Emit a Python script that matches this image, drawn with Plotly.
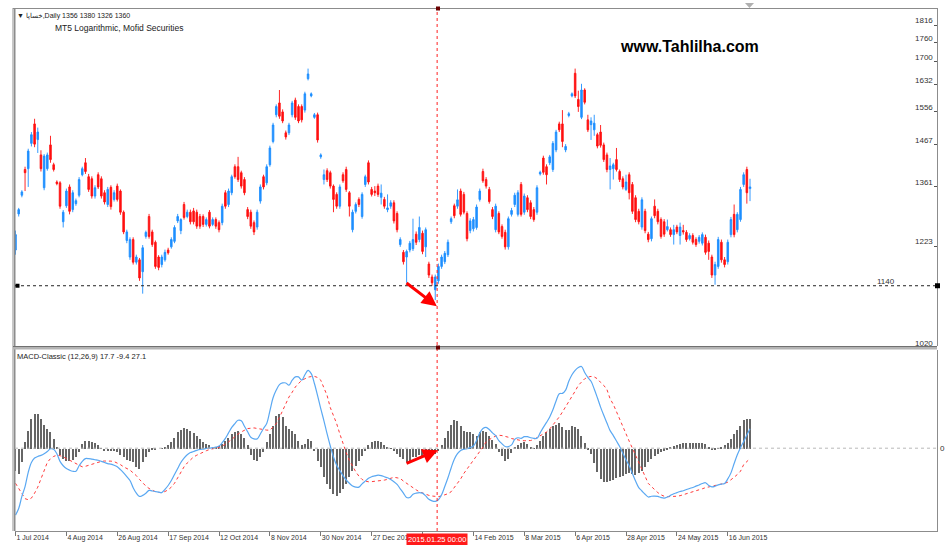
import math

import plotly.graph_objects as go

W, H = 951, 545

# daily bars (price scale is logarithmic)
opens = [
    1215, 1296, 1340, 1403, 1405, 1470, 1522, 1480, 1440, 1358,
    1405, 1466, 1415, 1372, 1370, 1278, 1315, 1360, 1306, 1320,
    1340, 1390, 1420, 1385, 1380, 1338, 1390, 1380, 1346, 1318,
    1359, 1330, 1362, 1350, 1300, 1236, 1200, 1238, 1189, 1194,
    1169, 1245, 1290, 1255, 1232, 1200, 1184, 1194, 1215, 1222,
    1234, 1280, 1258, 1318, 1290, 1300, 1303, 1300, 1290, 1290,
    1272, 1300, 1272, 1283, 1276, 1276, 1346, 1318, 1346, 1410,
    1410, 1395, 1378, 1306, 1300, 1276, 1266, 1326, 1385, 1370,
    1415, 1475, 1547, 1580, 1555, 1498, 1498, 1547, 1588, 1570,
    1570, 1560, 1650, 1600, 1540, 1547, 1435, 1378, 1400, 1395,
    1362, 1342, 1314, 1390, 1403, 1346, 1260, 1302, 1330, 1290,
    1366, 1420, 1354, 1350, 1362, 1335, 1330, 1306, 1314, 1322,
    1297, 1227, 1210, 1200, 1215, 1218, 1250, 1238, 1252, 1222,
    1185, 1158, 1132, 1150, 1180, 1190, 1205, 1278, 1315, 1314,
    1350, 1342, 1297, 1258, 1262, 1265, 1330, 1398, 1378, 1354,
    1306, 1260, 1297, 1267, 1254, 1222, 1295, 1318, 1295, 1366,
    1300, 1334, 1322, 1306, 1300, 1392, 1432, 1410, 1420, 1403,
    1453, 1522, 1522, 1453, 1545, 1600, 1666, 1590, 1540, 1617,
    1533, 1520, 1506, 1493, 1500, 1466, 1440, 1403, 1405, 1428,
    1398, 1380, 1354, 1390, 1366, 1334, 1302, 1266, 1302, 1250,
    1240, 1314, 1302, 1283, 1278, 1260, 1260, 1249, 1266, 1247,
    1258, 1254, 1240, 1247, 1238, 1234, 1230, 1243, 1230, 1200,
    1162, 1180, 1232, 1194, 1190, 1249, 1295, 1260, 1283, 1366,
    1403, 1356,
]
highs = [
    1258, 1310, 1352, 1410, 1456, 1500, 1536, 1512, 1452, 1442,
    1446, 1490, 1420, 1376, 1374, 1305, 1356, 1366, 1352, 1332,
    1384, 1410, 1432, 1392, 1386, 1364, 1396, 1386, 1352, 1360,
    1364, 1352, 1368, 1354, 1304, 1260, 1243, 1243, 1205, 1198,
    1226, 1258, 1296, 1260, 1236, 1204, 1205, 1216, 1220, 1243,
    1270, 1296, 1286, 1324, 1306, 1306, 1310, 1306, 1296, 1295,
    1288, 1305, 1288, 1288, 1281, 1320, 1352, 1356, 1390, 1416,
    1435, 1400, 1384, 1312, 1306, 1281, 1306, 1366, 1390, 1416,
    1464, 1525, 1576, 1617, 1562, 1504, 1525, 1586, 1595, 1576,
    1576, 1612, 1680, 1610, 1552, 1553, 1444, 1403, 1406, 1400,
    1366, 1347, 1366, 1396, 1410, 1350, 1306, 1323, 1335, 1347,
    1390, 1426, 1360, 1362, 1368, 1366, 1336, 1342, 1328, 1328,
    1302, 1243, 1215, 1216, 1235, 1285, 1256, 1290, 1258, 1265,
    1190, 1163, 1163, 1186, 1205, 1213, 1238, 1290, 1320, 1354,
    1356, 1348, 1302, 1286, 1289, 1318, 1356, 1405, 1384, 1360,
    1312, 1320, 1302, 1272, 1260, 1290, 1310, 1346, 1352, 1372,
    1344, 1340, 1328, 1312, 1364, 1400, 1438, 1416, 1440, 1476,
    1506, 1528, 1560, 1468, 1555, 1610, 1680, 1615, 1635, 1622,
    1547, 1540, 1547, 1498, 1519, 1472, 1446, 1432, 1420, 1458,
    1403, 1386, 1390, 1396, 1372, 1340, 1308, 1335, 1308, 1255,
    1290, 1330, 1308, 1288, 1284, 1283, 1265, 1271, 1271, 1276,
    1271, 1259, 1252, 1252, 1243, 1248, 1254, 1249, 1236, 1205,
    1190, 1244, 1238, 1200, 1238, 1289, 1318, 1300, 1360, 1396,
    1410, 1380,
]
lows = [
    1205, 1290, 1335, 1350, 1360, 1462, 1460, 1445, 1398, 1352,
    1400, 1420, 1398, 1364, 1308, 1265, 1310, 1295, 1300, 1315,
    1335, 1386, 1392, 1348, 1332, 1332, 1355, 1332, 1318, 1312,
    1306, 1325, 1325, 1294, 1250, 1230, 1194, 1184, 1184, 1150,
    1124, 1240, 1240, 1222, 1175, 1172, 1178, 1190, 1205, 1218,
    1230, 1275, 1250, 1283, 1286, 1272, 1272, 1262, 1262, 1266,
    1267, 1263, 1268, 1262, 1254, 1270, 1308, 1312, 1340, 1380,
    1372, 1356, 1340, 1284, 1262, 1248, 1260, 1320, 1354, 1364,
    1410, 1470, 1540, 1536, 1524, 1480, 1492, 1540, 1533, 1524,
    1526, 1553, 1645, 1596, 1536, 1472, 1430, 1366, 1372, 1356,
    1300, 1308, 1308, 1370, 1348, 1290, 1254, 1297, 1312, 1285,
    1360, 1366, 1337, 1338, 1336, 1318, 1308, 1300, 1308, 1274,
    1254, 1222, 1184, 1146, 1210, 1213, 1226, 1232, 1206, 1200,
    1156, 1140, 1111, 1144, 1175, 1185, 1200, 1273, 1286, 1308,
    1290, 1295, 1234, 1252, 1256, 1260, 1325, 1370, 1356, 1320,
    1284, 1254, 1250, 1240, 1216, 1216, 1290, 1312, 1290, 1290,
    1294, 1300, 1284, 1278, 1294, 1388, 1390, 1366, 1414, 1397,
    1447, 1500, 1460, 1447, 1540, 1596, 1594, 1555, 1535, 1576,
    1500, 1479, 1490, 1457, 1459, 1422, 1396, 1354, 1378, 1398,
    1372, 1354, 1350, 1330, 1296, 1277, 1272, 1260, 1252, 1232,
    1234, 1286, 1272, 1240, 1244, 1256, 1244, 1227, 1250, 1227,
    1249, 1233, 1236, 1227, 1222, 1229, 1225, 1205, 1194, 1156,
    1142, 1175, 1188, 1178, 1184, 1243, 1243, 1254, 1278, 1360,
    1320, 1326,
]
closes = [
    1249, 1306, 1348, 1395, 1450, 1493, 1468, 1500, 1405, 1437,
    1440, 1428, 1403, 1368, 1314, 1300, 1350, 1302, 1346, 1327,
    1378, 1405, 1398, 1354, 1338, 1358, 1360, 1338, 1324, 1354,
    1313, 1346, 1330, 1300, 1255, 1255, 1238, 1189, 1200, 1156,
    1220, 1254, 1245, 1227, 1180, 1178, 1200, 1210, 1209, 1238,
    1265, 1290, 1283, 1288, 1300, 1278, 1278, 1268, 1268, 1272,
    1283, 1268, 1283, 1268, 1260, 1314, 1314, 1350, 1385, 1385,
    1378, 1362, 1346, 1290, 1268, 1255, 1300, 1360, 1360, 1410,
    1458, 1519, 1570, 1543, 1530, 1487, 1519, 1580, 1540, 1530,
    1533, 1606, 1664, 1606, 1547, 1479, 1440, 1390, 1378, 1362,
    1330, 1314, 1360, 1375, 1354, 1314, 1300, 1318, 1318, 1342,
    1385, 1372, 1342, 1346, 1342, 1345, 1314, 1310, 1322, 1280,
    1260, 1238, 1190, 1212, 1230, 1238, 1232, 1265, 1212, 1260,
    1162, 1146, 1158, 1180, 1200, 1208, 1232, 1285, 1292, 1329,
    1295, 1300, 1240, 1280, 1283, 1312, 1350, 1375, 1362, 1325,
    1290, 1314, 1255, 1245, 1222, 1285, 1304, 1340, 1346, 1295,
    1338, 1306, 1290, 1283, 1358, 1396, 1396, 1390, 1435, 1470,
    1500, 1506, 1475, 1462, 1550, 1606, 1600, 1570, 1617, 1582,
    1506, 1530, 1524, 1463, 1465, 1428, 1403, 1412, 1415, 1403,
    1378, 1360, 1372, 1346, 1302, 1283, 1278, 1329, 1258, 1238,
    1285, 1292, 1278, 1245, 1250, 1267, 1249, 1260, 1255, 1266,
    1255, 1238, 1247, 1232, 1227, 1243, 1249, 1210, 1212, 1162,
    1184, 1238, 1194, 1184, 1232, 1283, 1249, 1295, 1354, 1390,
    1346, 1360,
]

# MACD-Classic (12,26,9) pane
macd_line = [
    -61, -55, -44, -35, -22, -13, -9, -7.5, -6.5, -5,
    -3, -0.5, -1, -5, -12, -16, -18.5, -20, -21, -21,
    -16, -12, -9.5, -9.5, -10, -10.5, -11, -12, -13, -14,
    -14.5, -15.5, -17, -19.5, -22.5, -26, -29.5, -36, -41, -44,
    -43, -41, -38.5, -39, -39.5, -40, -40.5, -37.5, -34, -29.5,
    -24, -18.5, -13, -9, -6, -4, -3, -2, -1.2, -0.8,
    -0.3, 0, 0.5, 1, 2, 5, 9, 14, 19, 22.5,
    25.5, 25, 20, 15, 10, 8.5, 8.5, 13, 18, 22.5,
    34, 46, 53, 58, 59.5, 59.5, 57.5, 62, 65, 65,
    62, 67, 71, 68, 59, 48, 36, 25, 13, 2,
    -8, -15.5, -20.5, -25, -29, -32, -34.5, -35.5, -35.5, -32.5,
    -30, -27.5, -26, -25.3, -24.6, -25, -26, -27, -28.5, -30.5,
    -33, -37, -41, -45, -45, -42, -41, -40.5, -41, -43.5,
    -46.5, -48, -48.5, -47, -42.5, -35, -27, -18, -10, -5,
    -2, -1, -0.5, 0.5, 2, 7, 14, 18, 19, 17,
    14, 11.5, 7, 4, 1.5, 1.5, 3, 8, 9.5, 9,
    10.5, 10.5, 9.5, 9, 9, 14, 19, 23.5, 28.5, 35,
    43, 49.7, 50, 53, 61, 67, 71, 73.5, 74.5, 69,
    64.5, 61, 54, 46, 37.5, 30, 23, 16, 11.5, 6.5,
    1.5, -4.5, -10.5, -16, -23, -30, -36, -39, -42, -44.5,
    -43.8, -43.7, -44, -45, -45.5, -44.5, -43, -41.5, -40.5, -39.5,
    -38.8, -37.7, -36.7, -35.8, -34.6, -33.5, -32.2, -31.5, -34, -35.2,
    -34.7, -33.5, -32.8, -32.1, -28, -22.5, -14, -6, 0.5, 6,
    12, 17.7,
]
signal_line = [
    -32, -37, -42, -46, -47, -45.5, -41, -35.5, -28, -19.5,
    -13, -9.5, -7.5, -6.4, -6.8, -7.9, -9.4, -10.9, -12.7, -14.5,
    -15.8, -17, -16.5, -15.5, -14.5, -13.3, -12.7, -12, -11.7, -11.5,
    -11.8, -12.2, -13.3, -15, -17, -18.7, -20, -22.5, -25, -28.5,
    -32, -34.5, -36.7, -38, -39.7, -40.2, -40.6, -39.5, -38, -35.5,
    -32, -27, -22, -17, -13.5, -10.5, -8, -6.4, -4.8, -3.3,
    -2.3, -1.2, -0.7, -0.3, 0.7, 1.8, 3.5, 5.8, 8, 10.9,
    13, 14.8, 16.5, 17.9, 18.2, 18.5, 18, 17.3, 17, 16.5,
    16.4, 19, 22.4, 28, 34.5, 40.5, 46.7, 51, 55.8, 59,
    61.8, 63.3, 64.8, 65.3, 65.5, 64.5, 62, 55, 48, 37,
    30, 22.4, 13, 4.2, -4, -11, -16.5, -21.5, -25.5, -28.5,
    -30, -30.6, -30.5, -30.2, -30, -29.5, -29.1, -28.4, -27.6, -26.5,
    -27, -27.6, -30, -32.1, -34.5, -36.7, -38, -39.7, -41, -42.1,
    -43, -43.6, -44, -44.2, -43.5, -42.7, -41.5, -39.7, -36, -32.1,
    -28, -23, -19, -15.5, -11.5, -7.5, -3, 1, 5.8, 8,
    9.7, 11, 11.8, 11.5, 10.9, 10, 8.8, 8, 7.3, 7,
    6.8, 6.7, 7, 7.9, 9.5, 10.9, 12.5, 14.8, 17.5, 20.9,
    24.5, 28.5, 33, 37.6, 42, 46.7, 52, 57.3, 60.5, 63.3,
    64.8, 65.5, 65, 63.3, 60, 57.3, 53.5, 45, 40, 33,
    27.5, 20, 12.5, 6.4, 0, -6.4, -13.6, -19, -25, -32.1,
    -35, -38, -40.5, -42.5, -43.8, -44.2, -44.2, -44, -43.8, -43.3,
    -42.5, -41.5, -40.6, -39.8, -38.8, -37.8, -37, -36, -35.4, -34.5,
    -33.8, -33.2, -32.5, -32, -31, -29, -26.5, -24, -21, -15,
    -12, -9.4,
]
histogram = [
    -20, -23, -12, 6, 16, 27, 32, 32, 27, 22,
    18, 15, 9, 2, -6, -9, -11, -11, -10, -8,
    -3, 4, 7, 7, 6, 5, 3, 0.6, -2, -2.5,
    -2.5, -2, -3.3, -6, -8, -10, -11, -12.4, -17, -18.5,
    -12, -8, -3, -1, -0.3, 0, 0.6, 1.2, 3, 6,
    10, 15, 17, 18.5, 18, 16, 14, 12, 9, 6,
    4, 3, 2, 2, 2.4, 4, 7, 10, 13, 15.5,
    16, 13, 10, 3, -6, -10, -11, -8, -3, 6,
    13, 21, 30, 31.5, 29, 21, 18, 16, 13, 7,
    3, 4, 9, 7, -2, -11, -17, -26, -32, -37,
    -41, -43, -40, -37, -32, -26, -20, -15.5, -11, -6.4,
    -2.4, 3, 6, 6.7, 7.3, 6, 3.6, 2, 0.6, -2,
    -5, -8, -9.4, -12.4, -11, -8, -8, -6, -8, -8.5,
    -8, -6, -5, -2, 3, 10, 16, 22, 26, 25.5,
    21, 16, 15, 15, 13, 12, 15, 16, 15, 12,
    8, 4, -3, -7, -11, -9, -4, 1, 3, 5,
    6, 4.5, 1.5, 0.6, 3, 7, 12, 15, 18, 21,
    22, 23, 20, 17, 17, 21, 19.5, 18, 12, 5,
    -1, -5, -13, -21, -28, -30, -30.5, -29, -28.5, -26.7,
    -26, -24.5, -23, -22.4, -23, -23.6, -22.4, -20, -17, -12.4,
    -9.4, -6.4, -4.8, -3.3, -1.8, -0.6, 1.5, 2.5, 3.8, 4.5,
    5, 5, 5, 4.8, 4.8, 5, 4.8, 4, 2, -1,
    -0.5, 0.5, 1.5, 3, 5, 9, 13, 17, 21, 26,
    27, 27.1,
]

# one date label every 16 bars; the one under the cursor box is hidden
tick_labels = [
    "1 Jul 2014", "4 Aug 2014", "26 Aug 2014", "17 Sep 2014", "12 Oct 2014",
    "8 Nov 2014", "30 Nov 2014", "27 Dec 2014", "", "14 Feb 2015",
    "8 Mar 2015", "6 Apr 2015", "28 Apr 2015", "24 May 2015", "16 Jun 2015",
]
BARS_PER_LABEL = 16
price_levels = [1816, 1760, 1700, 1632, 1556, 1467, 1361, 1223, 1020]
support_level = 1140
cursor_bar = 132.6
cursor_label = "2015.01.25 00:00"
header_text = "▼ خساپا,Daily 1356 1380 1326 1360"
sub_header = "MT5 Logarithmic, Mofid Securities"
macd_title = "MACD-Classic (12,26,9) 17.7 -9.4 27.1"
watermark = "www.Tahlilha.com"

n = len(closes)
assert all(len(a) == n for a in (opens, highs, lows, macd_line, signal_line, histogram)), \
    [len(a) for a in (opens, highs, lows, closes, macd_line, signal_line, histogram)]
bars = list(range(n))
tick_pos = [k * BARS_PER_LABEL for k in range(len(tick_labels))]

# price pane: y pixel 8 -> 1872, y pixel 346 -> 1023.7 (log scale)
P_TOP, P_BOT = 1872, 1023.7


def px(x):
    return x / W


def py(y):
    return 1 - y / H


def price_px(p):
    # pixel row of a price inside the price pane
    return 8 + (346 - 8) * (math.log(P_TOP) - math.log(p)) / (math.log(P_TOP) - math.log(P_BOT))


FONT = "Liberation Sans, Arial, DejaVu Sans, sans-serif"
BLUE = "#1e8fff"
RED = "#ff1010"
FRAME = "#8c8c8c"

fig = go.Figure()
fig.add_trace(go.Candlestick(
    x=bars, open=opens, high=highs, low=lows, close=closes,
    increasing=dict(line=dict(color=BLUE, width=0.9), fillcolor=BLUE),
    decreasing=dict(line=dict(color=RED, width=0.9), fillcolor=RED),
    whiskerwidth=0, xaxis="x", yaxis="y", hoverinfo="skip",
))
fig.add_trace(go.Bar(
    x=bars, y=histogram, width=0.36, marker=dict(color="#666666", line=dict(width=0)),
    xaxis="x", yaxis="y2", hoverinfo="skip",
))
fig.add_trace(go.Scatter(
    x=bars, y=signal_line, mode="lines", line=dict(color="#ff3b3b", width=1, dash="dot"),
    xaxis="x", yaxis="y2", hoverinfo="skip",
))
fig.add_trace(go.Scatter(
    x=bars, y=macd_line, mode="lines", line=dict(color="#5aa8f2", width=1.2, shape="spline"),
    xaxis="x", yaxis="y2", hoverinfo="skip",
))

sup_y = price_px(support_level)
shapes = [
    # frame
    dict(type="line", xref="paper", yref="paper", x0=px(12.5), x1=px(12.5), y0=py(8), y1=py(531),
         line=dict(color="#c8c8c8", width=1)),
    dict(type="line", xref="paper", yref="paper", x0=px(14.5), x1=px(14.5), y0=py(8), y1=py(531),
         line=dict(color=FRAME, width=2)),
    dict(type="line", xref="paper", yref="paper", x0=px(13), x1=px(937), y0=py(8.5), y1=py(8.5),
         line=dict(color=FRAME, width=1)),
    dict(type="rect", xref="paper", yref="paper", x0=px(13), x1=px(937), y0=py(349.5), y1=py(346),
         fillcolor="#b4b4b4", line=dict(width=0)),
    dict(type="line", xref="paper", yref="paper", x0=px(13), x1=px(937), y0=py(346.5), y1=py(346.5),
         line=dict(color="#707070", width=1)),
    # chart-shift marker at the top edge
    dict(type="path", xref="paper", yref="paper",
         path="M %f %f L %f %f L %f %f Z" % (px(745), py(3), px(754), py(3), px(749.5), py(8)),
         fillcolor="#b0b0b0", line=dict(width=0)),
    # support level
    dict(type="line", xref="paper", yref="paper", x0=px(15), x1=px(937), y0=py(sup_y), y1=py(sup_y),
         line=dict(color="#222", width=1, dash="dot")),
    dict(type="rect", xref="paper", yref="paper", x0=px(15.5), x1=px(19.5),
         y0=py(sup_y + 2), y1=py(sup_y - 2), fillcolor="black", line=dict(width=0)),
    dict(type="rect", xref="paper", yref="paper", x0=px(935), x1=px(940),
         y0=py(sup_y + 2.5), y1=py(sup_y - 2.5), fillcolor="black", line=dict(width=0)),
    # MACD zero level
    dict(type="line", xref="paper", yref="y2", x0=px(15), x1=px(937), y0=0, y1=0,
         line=dict(color="#b8b8b8", width=1, dash="dot")),
    # cursor
    dict(type="line", xref="x", yref="paper", x0=cursor_bar, x1=cursor_bar, y0=py(531), y1=py(8),
         line=dict(color="#ff2020", width=1, dash="dot")),
    dict(type="rect", xref="paper", yref="paper", x0=px(436), x1=px(440), y0=py(10.5), y1=py(6.5),
         fillcolor="#6a0000", line=dict(width=0)),
    dict(type="rect", xref="paper", yref="paper", x0=px(436), x1=px(440), y0=py(349.5), y1=py(345.5),
         fillcolor="#6a0000", line=dict(width=0)),
]

annotations = []
for p in price_levels:
    annotations.append(dict(
        xref="paper", yref="paper", x=px(935), y=py(price_px(p) - 4.5),
        text=str(p), showarrow=False, xanchor="right", yanchor="middle",
        font=dict(size=8, color="#333", family=FONT),
    ))
annotations += [
    dict(xref="paper", yref="paper", x=px(886), y=py(sup_y - 4),
         text=str(support_level), showarrow=False, xanchor="center", yanchor="middle",
         font=dict(size=8, color="#333", family=FONT)),
    dict(xref="paper", yref="paper", x=px(938), y=py(448), text="0", showarrow=False,
         xanchor="left", yanchor="middle", font=dict(size=8, color="#333", family=FONT)),
    dict(xref="paper", yref="paper", x=px(15), y=py(16), text=header_text, showarrow=False,
         xanchor="left", yanchor="middle", font=dict(size=7, color="#222", family=FONT)),
    dict(xref="paper", yref="paper", x=px(53), y=py(28), text=sub_header, showarrow=False,
         xanchor="left", yanchor="middle", font=dict(size=8.5, color="#222", family=FONT)),
    dict(xref="paper", yref="paper", x=px(689), y=py(46), text="<b>%s</b>" % watermark,
         showarrow=False, xanchor="center", yanchor="middle",
         font=dict(size=16, color="black", family=FONT)),
    dict(xref="paper", yref="paper", x=px(15), y=py(356), text=macd_title, showarrow=False,
         xanchor="left", yanchor="middle", font=dict(size=7.5, color="#222", family=FONT)),
    dict(xref="x", yref="paper", x=cursor_bar, y=py(539), text=cursor_label, showarrow=False,
         xanchor="center", yanchor="middle", bgcolor="#ff1a1a", borderpad=1,
         font=dict(size=7.5, color="white", family=FONT)),
    # hand-drawn arrows
    dict(xref="x", yref="y", axref="x", ayref="y",
         x=132.5, y=math.log10(1099), ax=122.5, ay=math.log10(1148),
         text="", showarrow=True, arrowhead=2, arrowsize=1, arrowwidth=3, arrowcolor="#ff0000"),
    dict(xref="x", yref="y2", axref="x", ayref="y2",
         x=132.8, y=-1.8, ax=122.5, ay=-14.5,
         text="", showarrow=True, arrowhead=2, arrowsize=1, arrowwidth=3, arrowcolor="#ff0000"),
]

fig.update_layout(
    width=W, height=H, margin=dict(l=0, r=0, t=0, b=0),
    paper_bgcolor="white", plot_bgcolor="white", showlegend=False,
    font=dict(family=FONT, size=8, color="#333"),
    bargap=0,
    xaxis=dict(
        domain=[px(15), px(937)], range=[-0.16, 289.8], anchor="y2",
        tickmode="array", tickvals=tick_pos, ticktext=tick_labels, tickangle=0,
        ticks="outside", ticklen=4, tickcolor="#777", ticklabelposition="outside right",
        tickfont=dict(size=7, color="#333", family=FONT),
        showgrid=False, zeroline=False, showline=True, linecolor=FRAME, linewidth=1,
        rangeslider=dict(visible=False), fixedrange=True,
    ),
    yaxis=dict(
        domain=[py(346), py(8)], type="log",
        range=[math.log10(P_BOT), math.log10(P_TOP)], side="right", anchor="x",
        tickmode="array", tickvals=price_levels, ticks="inside", ticklen=3, tickcolor="#555",
        showticklabels=False, showgrid=False, zeroline=False,
        showline=True, linecolor=FRAME, linewidth=1,
    ),
    yaxis2=dict(
        domain=[py(531), py(349.5)], range=[-75.5, 90], side="right", anchor="x",
        showticklabels=False, ticks="", showgrid=False, zeroline=False,
        showline=True, linecolor=FRAME, linewidth=1,
    ),
    shapes=shapes,
    annotations=annotations,
)

fig.write_html(
    "out.html",
    config={"displayModeBar": False},
    post_script="document.body.style.margin='0';document.body.style.overflow='hidden';",
)
